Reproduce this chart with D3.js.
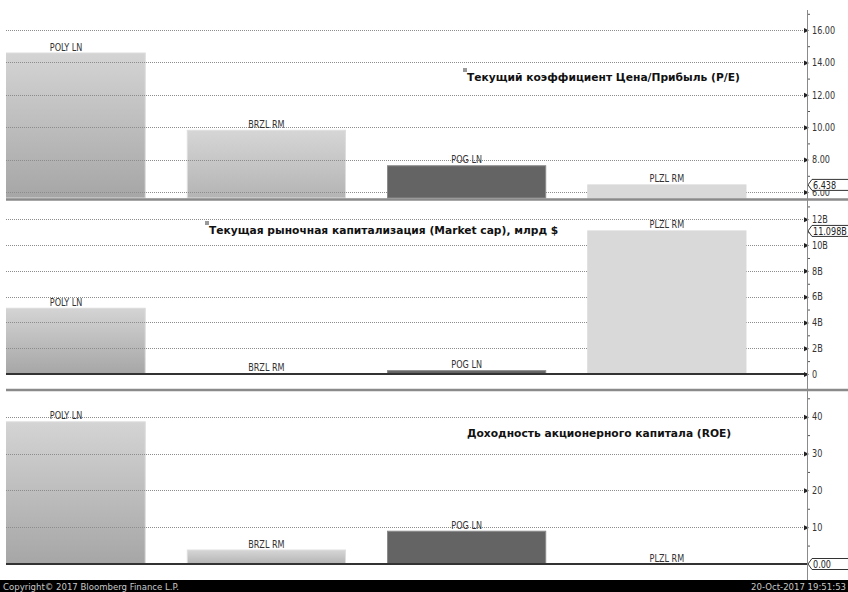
<!DOCTYPE html>
<html>
<head>
<meta charset="utf-8">
<script src="https://cdn.jsdelivr.net/npm/d3@7"></script>
<style>
  html, body { margin: 0; padding: 0; background: #fff; }
  svg { display: block; }
  .narrow { font-family: "Liberation Sans Narrow", "DejaVu Sans Condensed", "Arial Narrow", sans-serif; font-stretch: condensed; }
  .title { font-family: "DejaVu Sans", Verdana, sans-serif; font-weight: bold; }
</style>
</head>
<body>
<svg id="chart" width="848" height="592"></svg>
<script>
// Peer comparison: P/E, market cap and ROE for four gold miners
const categories = ["POLY LN", "BRZL RM", "POG LN", "PLZL RM"];

const peValues   = [14.58, 9.81, 7.62, 6.438];
const mcapValues = [5.10, 0.03, 0.26, 11.098];   // billions of USD
const roeValues  = [38.6, 3.8, 8.9, 0];

const peTicks   = [6, 8, 10, 12, 14, 16];
const peMinor   = [7, 9, 11, 13, 15, 17];
const mcapTicks = [0, 2, 4, 6, 8, 10, 12];
const mcapMinor = [1, 3, 5, 7, 9, 11, 13];
const roeTicks  = [10, 20, 30, 40];
const roeMinor  = [5, 15, 25, 35, 45];

const peTitle   = "Текущий коэффициент Цена/Прибыль (P/E)";
const mcapTitle = "Текущая рыночная капитализация (Market cap), млрд $";
const roeTitle  = "Доходность акционерного капитала (ROE)";

const peLast   = "6.438";
const mcapLast = "11.098B";
const roeLast  = "0.00";

const copyrightText = "Copyright\u00A9 2017 Bloomberg Finance L.P.";
const stampText = "20-Oct-2017 19:51:53";

// Bar fills per ticker
const barStyle = {
  "POLY LN": { grad: ["#d4d4d4", "#a6a6a6"], stroke: "#dcdcdc" },
  "BRZL RM": { grad: ["#d6d6d6", "#b4b4b4"], stroke: "#dedede" },
  "POG LN":  { fill: "#646464", stroke: "#8a8a8a" },
  "PLZL RM": { fill: "#d9d9d9", stroke: "#d9d9d9" }
};

const W = 848, H = 592;
const plotLeft = 6, axisX = 807;
const squeeze = 0.9;          // horizontal compression for the narrow label face
const smallFont = "10px";

const svg = d3.select("#chart");
const defs = svg.append("defs");

defs.append("clipPath").attr("id", "plotClip")
  .append("rect").attr("x", plotLeft).attr("y", 0).attr("width", axisX - plotLeft).attr("height", H);

Object.entries(barStyle).forEach(([k, s], i) => {
  if (!s.grad) return;
  const g = defs.append("linearGradient").attr("id", "grad" + i)
    .attr("x1", 0).attr("y1", 0).attr("x2", 0).attr("y2", 1);
  g.append("stop").attr("offset", "0%").attr("stop-color", s.grad[0]);
  g.append("stop").attr("offset", "100%").attr("stop-color", s.grad[1]);
  s.fill = "url(#grad" + i + ")";
});

const x = d3.scaleBand()
  .domain(categories)
  .range([-34, 767])
  .paddingInner(0.21)
  .paddingOuter(0.105);

const panels = [
  {
    values: peValues, ticks: peTicks, minor: peMinor,
    y: d3.scaleLinear().domain([6, 16]).range([192, 30]),
    floor: 5.63, grid: peTicks, baseline: false,
    fmt: d3.format(".2f"), title: peTitle, titlePos: [467, 81], marker: true,
    last: peLast, lastValue: peValues[3]
  },
  {
    values: mcapValues, ticks: mcapTicks, minor: mcapMinor,
    y: d3.scaleLinear().domain([0, 12]).range([374, 219.3]),
    floor: 0, grid: mcapTicks.filter(t => t > 0), baseline: true,
    fmt: d => d === 0 ? "0" : d + "B", title: mcapTitle, titlePos: [209, 234], marker: true,
    last: mcapLast, lastValue: mcapValues[3]
  },
  {
    values: roeValues, ticks: roeTicks, minor: roeMinor,
    y: d3.scaleLinear().domain([0, 40]).range([564, 416.7]),
    floor: 0, grid: roeTicks, baseline: true,
    fmt: d3.format("d"), title: roeTitle, titlePos: [467, 437], marker: false,
    last: roeLast, lastValue: roeValues[3]
  }
];

const gradientBars = ["POLY LN", "BRZL RM"];

panels.forEach(p => {
  const g = svg.append("g");
  const plot = g.append("g").attr("clip-path", "url(#plotClip)");
  const rows = categories.map((c, i) => ({ c, v: p.values[i] }));
  const y = p.y;
  const base = y(p.floor);

  const drawBars = (sel) => sel.append("rect")
    .attr("x", d => x(d.c))
    .attr("width", x.bandwidth())
    .attr("y", d => Math.min(y(d.v), base))
    .attr("height", d => Math.abs(base - y(d.v)))
    .attr("fill", d => barStyle[d.c].fill)
    .attr("stroke", d => barStyle[d.c].stroke)
    .attr("stroke-width", 1);

  // gradient bars sit under the grid, solid bars over it
  plot.selectAll(".gbar").data(rows.filter(d => gradientBars.includes(d.c)))
    .enter().call(drawBars);

  plot.selectAll(".grid").data(p.grid).enter().append("line")
    .attr("x1", plotLeft).attr("x2", axisX - 2)
    .attr("y1", d => Math.round(y(d)) + 0.5).attr("y2", d => Math.round(y(d)) + 0.5)
    .attr("stroke", "#8c8c8c").attr("stroke-width", 1)
    .attr("stroke-dasharray", "1,1");

  plot.selectAll(".sbar").data(rows.filter(d => !gradientBars.includes(d.c)))
    .enter().call(drawBars);

  if (p.baseline) {
    g.append("line")
      .attr("x1", plotLeft).attr("x2", axisX)
      .attr("y1", y(0)).attr("y2", y(0))
      .attr("stroke", "#333").attr("stroke-width", 2);
  }

  // ticker labels above each bar
  g.selectAll(".lbl").data(rows).enter().append("text")
    .attr("class", "narrow")
    .attr("transform", d => `translate(${x(d.c) + x.bandwidth() / 2},${Math.min(y(d.v), base) - 2.5}) scale(${squeeze},1)`)
    .attr("text-anchor", "middle")
    .attr("font-size", smallFont)
    .attr("fill", "#333")
    .text(d => d.c);

  // panel title
  if (p.marker) {
    g.append("rect")
      .attr("x", p.titlePos[0] - 4).attr("y", p.titlePos[1] - 13)
      .attr("width", 4).attr("height", 4).attr("fill", "#999");
  }
  g.append("text").attr("class", "title")
    .attr("x", p.titlePos[0]).attr("y", p.titlePos[1])
    .attr("font-size", "10.7px").attr("fill", "#111")
    .text(p.title);

  // right-hand axis: labels plus pointer marks
  const axis = d3.axisRight(y).tickValues(p.ticks).tickFormat(p.fmt).tickSize(0).tickPadding(0);
  const ag = g.append("g").attr("transform", `translate(${axisX},0)`).call(axis);
  ag.select(".domain").remove();
  ag.selectAll(".tick text")
    .attr("class", "narrow").attr("font-size", smallFont).attr("fill", "#333")
    .attr("x", 0).attr("transform", `translate(5,0) scale(${squeeze},1)`);
  ag.selectAll(".tick").append("path")
    .attr("d", "M-3,-2.5L2,0L-3,2.5Z").attr("fill", "#222");

  const minorAxis = d3.axisRight(y).tickValues(p.minor).tickFormat("").tickSize(3);
  const mg = g.append("g").attr("transform", `translate(${axisX},0)`).call(minorAxis);
  mg.select(".domain").remove();
  mg.selectAll(".tick line").attr("stroke", "#555");

  // last-value tag
  const yv = y(p.lastValue);
  g.append("path")
    .attr("d", `M${W},${yv - 5.5}L${axisX + 5},${yv - 5.5}L${axisX + 1},${yv}L${axisX + 5},${yv + 5.5}L${W},${yv + 5.5}`)
    .attr("fill", "#fff").attr("stroke", "#333").attr("stroke-width", 1);
  g.append("text").attr("class", "narrow")
    .attr("transform", `translate(${axisX + 6},${yv + 3.6}) scale(${squeeze},1)`)
    .attr("font-size", smallFont).attr("fill", "#222")
    .text(p.last);
});

// vertical axis line shared by the three panels
svg.append("line")
  .attr("x1", axisX + 0.5).attr("x2", axisX + 0.5)
  .attr("y1", 10).attr("y2", 580)
  .attr("stroke", "#8a8a8a").attr("stroke-width", 1);

// panel separators
[199.5, 390].forEach(sy => {
  svg.append("line")
    .attr("x1", plotLeft).attr("x2", W)
    .attr("y1", sy).attr("y2", sy)
    .attr("stroke", "#8a8a8a").attr("stroke-width", 2.5);
});

// footer strip
svg.append("rect").attr("x", 0).attr("y", 580).attr("width", W).attr("height", 12).attr("fill", "#000");
svg.append("text").attr("class", "narrow")
  .attr("x", 3).attr("y", 589.5).attr("font-size", "9.5px").attr("fill", "#c8c8c8")
  .text(copyrightText);
svg.append("text").attr("class", "narrow")
  .attr("x", W - 2).attr("y", 589.5).attr("text-anchor", "end")
  .attr("font-size", "9.5px").attr("fill", "#c8c8c8")
  .text(stampText);
</script>
</body>
</html>
